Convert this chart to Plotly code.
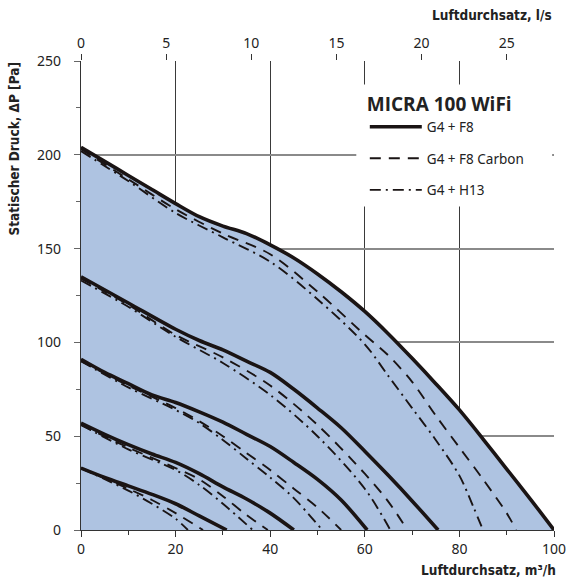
import plotly.graph_objects as go

# ---------------- data (m3/h vs Pa) ----------------
# Level 1 (max speed)
l1_f8_x = [0, 5, 10, 15, 20, 25, 30, 35, 40, 45, 50, 55, 60, 65, 70, 75, 80, 85, 90, 95, 100]
l1_f8_y = [204, 196.5, 189, 181.5, 174, 167, 162, 158, 152, 145, 136.5, 127, 116.5, 104.5, 91.5, 78, 64, 48.5, 32.5, 16.5, 0]
l1_fc_x = [0, 10, 20, 30, 40, 50, 60, 65, 70, 75, 80, 85, 90, 92]
l1_fc_y = [203, 187, 171, 158, 147, 127, 104, 93, 79, 61, 44, 27, 9, 0]
l1_h13_x = [0, 10, 20, 30, 40, 50, 60, 65, 70, 75, 80, 83, 85]
l1_h13_y = [202, 186, 169, 156, 143, 123, 99, 82, 65, 48, 29, 12, 0]

# Level 2
l2_f8_x = [0, 10, 20, 25, 30, 35, 40, 45, 50, 55, 60, 65, 70, 75.5]
l2_f8_y = [135, 121, 107, 101, 96, 90, 84, 75, 65, 54.5, 42, 29, 15.5, 0]
l2_fc_x = [0, 10, 20, 30, 40, 50, 60, 65, 69]
l2_fc_y = [134, 120, 104, 92, 77, 56, 30, 15, 0]
l2_h13_x = [0, 10, 20, 30, 40, 50, 60, 65.4]
l2_h13_y = [133, 119, 103, 89, 72, 50, 22, 0]

# Level 3
l3_f8_x = [0, 5, 10, 15, 20, 25, 30, 35, 40, 45, 50, 55, 60.5]
l3_f8_y = [91, 84, 78, 72, 68, 63, 57.5, 51, 44.5, 36, 27, 16, 0]
l3_fc_x = [0, 10, 20, 25, 30, 35, 40, 45, 50, 55]
l3_fc_y = [90, 77, 65, 58, 50, 41, 32, 22, 12, 0]
l3_h13_x = [0, 10, 20, 25, 30, 35, 40, 45, 51]
l3_h13_y = [90, 76, 64, 57, 48, 38, 28, 17, 0]

# Level 4
l4_f8_x = [0, 5, 10, 15, 20, 25, 30, 35, 40, 45]
l4_f8_y = [57, 51, 45.5, 40.5, 36, 30, 23, 16.5, 9, 0]
l4_fc_x = [0, 10, 20, 25, 30, 35, 39.5]
l4_fc_y = [56, 44, 33, 27, 18, 8, 0]
l4_h13_x = [0, 10, 20, 25, 30, 36.3]
l4_h13_y = [56, 43, 32, 24, 14, 0]

# Level 5
l5_f8_x = [0, 5, 10, 15, 20, 25, 30.8]
l5_f8_y = [33, 28, 23.5, 19, 14, 7.5, 0]
l5_fc_x = [0, 10, 15, 20, 25.8]
l5_fc_y = [33, 22, 16, 9, 0]
l5_h13_x = [0, 10, 15, 20, 22.6]
l5_h13_y = [33, 21, 14, 6, 0]

series_names = ["G4 + F8", "G4 + F8 Carbon", "G4 + H13"]
levels = [
    [(l1_f8_x, l1_f8_y), (l1_fc_x, l1_fc_y), (l1_h13_x, l1_h13_y)],
    [(l2_f8_x, l2_f8_y), (l2_fc_x, l2_fc_y), (l2_h13_x, l2_h13_y)],
    [(l3_f8_x, l3_f8_y), (l3_fc_x, l3_fc_y), (l3_h13_x, l3_h13_y)],
    [(l4_f8_x, l4_f8_y), (l4_fc_x, l4_fc_y), (l4_h13_x, l4_h13_y)],
    [(l5_f8_x, l5_f8_y), (l5_fc_x, l5_fc_y), (l5_h13_x, l5_h13_y)],
]

x_ticks = [0, 20, 40, 60, 80, 100]
y_ticks = [0, 50, 100, 150, 200, 250]
ls_ticks = [0, 5, 10, 15, 20, 25]
M3H_PER_LS = 3.6

# ---------------- styles ----------------
FILL = "rgb(174,195,225)"
LINE = "#1a1414"
styles = [
    dict(width=3.6, dash="solid"),
    dict(width=1.9, dash="11px,8px"),
    dict(width=1.9, dash="11px,5px,2px,5px"),
]
TICK_FONT = dict(family="Noto Sans, Open Sans, sans-serif", size=14, color="#222")
TITLE_FONT = dict(family="DejaVu Sans Condensed, Roboto Condensed, Roboto, sans-serif", size=13.5, color="#222")

fig = go.Figure()

# shaded working area under the maximum curve
fig.add_trace(go.Scatter(x=l1_f8_x, y=l1_f8_y, mode="lines", fill="tozeroy",
                         fillcolor=FILL, line=dict(width=0, shape="spline", smoothing=0.9),
                         showlegend=False, hoverinfo="skip"))

for li, lev in enumerate(levels):
    for si, (xs, ys) in enumerate(lev):
        st = styles[si]
        fig.add_trace(go.Scatter(
            x=xs, y=ys, mode="lines",
            line=dict(color=LINE, width=st["width"], dash=st["dash"], shape="spline", smoothing=0.9),
            name=series_names[si], legendgroup=series_names[si],
            showlegend=(li == 0),
        ))

# dummy trace to carry the top (l/s) axis
fig.add_trace(go.Scatter(x=[0, 100 / M3H_PER_LS], y=[0, 0], xaxis="x2", mode="lines",
                         line=dict(width=0), showlegend=False, hoverinfo="skip"))

fig.update_layout(
    width=568, height=581,
    margin=dict(l=81, r=14, t=61, b=51, autoexpand=False),
    paper_bgcolor="white", plot_bgcolor="white",
    showlegend=True,
    legend=dict(
        x=0.6, y=0.945, xanchor="left", yanchor="top",
        bgcolor="rgba(0,0,0,0)", borderwidth=0,
        title=dict(text="<b>MICRA 100 WiFi</b>",
                   font=dict(family="Open Sans, Noto Sans, sans-serif", size=19, color="#222")),
        font=dict(family="Noto Sans, Open Sans, sans-serif", size=13.5, color="#222"),
        tracegroupgap=11,
        itemwidth=52,
    ),
    xaxis=dict(
        range=[0, 100], tickvals=x_ticks, ticks="outside", ticklen=6, tickcolor="#333",
        showgrid=True, gridcolor="#3a3a3a", gridwidth=1, automargin=False,
        showline=True, linecolor="#333", linewidth=1.2, zeroline=False,
        tickfont=TICK_FONT,
        minor=dict(dtick=10, ticks="outside", ticklen=4, tickcolor="#333", showgrid=False),
    ),
    xaxis2=dict(
        range=[0, 100 / M3H_PER_LS], overlaying="x", side="top", anchor="y",
        tickvals=ls_ticks, ticks="outside", ticklen=6, tickcolor="#333", automargin=False,
        showgrid=False, showline=False, zeroline=False, tickfont=TICK_FONT,
    ),
    yaxis=dict(
        range=[0, 250], tickvals=y_ticks, ticks="outside", ticklen=6, tickcolor="#666",
        showgrid=True, gridcolor="#8a8a8a", gridwidth=1.6, automargin=False,
        showline=True, linecolor="#333", linewidth=1.2, zeroline=False,
        tickfont=TICK_FONT, ticklabelstandoff=10,
        minor=dict(dtick=25, ticks="outside", ticklen=4, tickcolor="#666", showgrid=False),
    ),
    shapes=[dict(type="rect", xref="paper", yref="paper", x0=0.582, x1=0.996, y0=0.69, y1=0.95,
                 fillcolor="white", line=dict(width=0), layer="above")],
    annotations=[
        dict(text="<b>Luftdurchsatz, l/s</b>", xref="paper", yref="paper", x=1.0, y=1.0,
             xanchor="right", yanchor="bottom", yshift=36, showarrow=False, font=TITLE_FONT),
        dict(text="<b>Luftdurchsatz, m³/h</b>", xref="paper", yref="paper", x=1.0, y=0,
             xanchor="right", yanchor="top", xshift=4, yshift=-30, showarrow=False, font=TITLE_FONT),
        dict(text="<b>Statischer Druck, ΔP [Pa]</b>", xref="paper", yref="paper", x=0, y=1.0,
             xanchor="right", yanchor="top", xshift=-58, showarrow=False, textangle=-90,
             font=TITLE_FONT),
    ],
)

fig.write_html("out.html", config={"displayModeBar": False},
               post_script="document.body.style.margin='0';")
